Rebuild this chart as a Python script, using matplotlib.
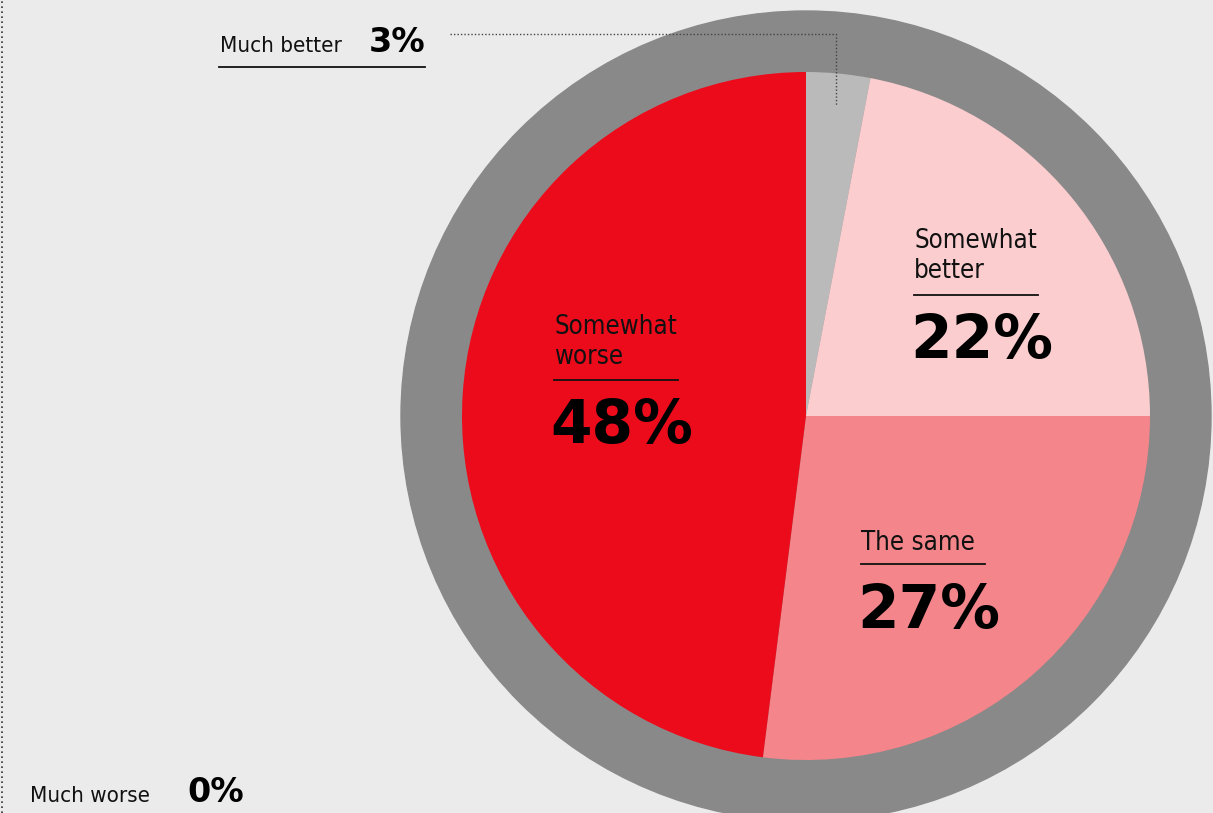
import matplotlib.pyplot as plt
from matplotlib.patches import Circle

# survey answers, clockwise from the top
labels = ['Much better', 'Somewhat better', 'The same', 'Somewhat worse', 'Much worse']
shares = [3, 22, 27, 48, 0]
colors = ['#bababa', '#fbcdcf', '#f4858a', '#ec0b1b', '#ec0b1b']

W, H = 1213, 813
BG = '#ebebeb'
FONT = 'DejaVu Sans'

fig = plt.figure(figsize=(W / 100, H / 100), dpi=100, facecolor=BG)
ax = fig.add_axes([0, 0, 1, 1])
ax.set_xlim(0, W)
ax.set_ylim(0, H)
ax.set_aspect('equal')
ax.axis('off')


def py(y):
    # pixel rows count from the top
    return H - y


cx, cy = 806, py(416)

# grey ring behind the pie
ax.add_patch(Circle((cx, cy), 405, color='#8a8989', zorder=1))

wedges, _ = ax.pie(shares, colors=colors, startangle=90, counterclock=False,
                   center=(cx, cy), radius=344, wedgeprops=dict(linewidth=0))
for w in wedges:
    w.set_zorder(2)

# restore limits after pie
ax.set_xlim(0, W)
ax.set_ylim(0, H)


def block(x, y_label, lines, pct, rule_y, rule_x1, pct_y, size=43):
    for i, line in enumerate(lines):
        ax.text(x, py(y_label + i * 30), line, fontsize=18.5, family=FONT,
                fontstretch='condensed', color='#111111', va='baseline', zorder=5)
    ax.plot([x, rule_x1], [py(rule_y), py(rule_y)], color='#111111', lw=1.3, zorder=5)
    ax.text(x - 4, py(pct_y), pct, fontsize=size, family=FONT, fontweight='heavy',
            color='#000000', va='baseline', zorder=5)


block(554, 334, ['Somewhat', 'worse'], f'{shares[3]}%', 380, 678, 443)
block(914, 248, ['Somewhat', 'better'], f'{shares[1]}%', 295, 1038, 358)
block(861, 550, ['The same'], f'{shares[2]}%', 564, 985, 628)

# small slices labelled outside the pie
ax.text(220, py(52), labels[0], fontsize=16, family=FONT, fontstretch='condensed',
        color='#111111', va='baseline')
ax.text(369, py(52), f'{shares[0]}%', fontsize=24, family=FONT, fontweight='heavy',
        color='#000000', va='baseline')
ax.plot([219, 425], [py(67), py(67)], color='#111111', lw=1.3)
ax.plot([450, 836, 836], [py(34), py(34), py(105)], color='#444444', lw=1,
        linestyle=(0, (1, 1.5)), zorder=6)

ax.text(30, py(802), labels[4], fontsize=16, family=FONT, fontstretch='condensed',
        color='#111111', va='baseline')
ax.text(187, py(802), f'{shares[4]}%', fontsize=24, family=FONT, fontweight='heavy',
        color='#000000', va='baseline')

# dotted rule down the left edge
ax.plot([2, 2], [0, H], color='#333333', lw=1.2, linestyle=(0, (1, 2)))

fig.savefig('out.png', dpi=100, facecolor=BG)
